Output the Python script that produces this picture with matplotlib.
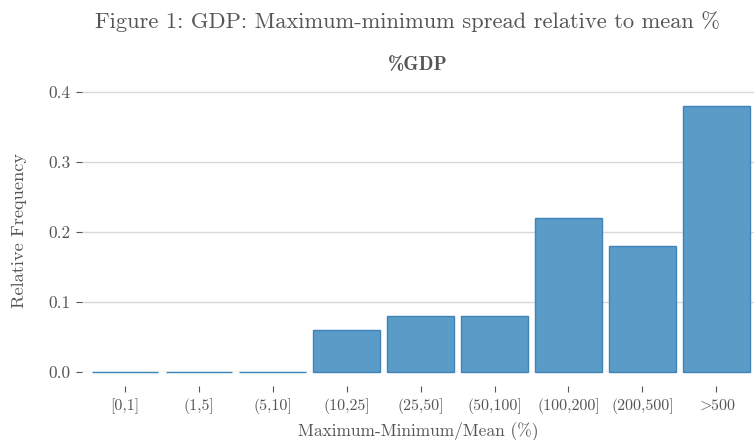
import matplotlib
matplotlib.use("Agg")
import matplotlib.pyplot as plt

categories = ["[0,1]", "(1,5]", "(5,10]", "(10,25]", "(25,50]", "(50,100]",
              "(100,200]", "(200,500]", r"$>\!\!500$"]
values = [0.0, 0.0, 0.0, 0.06, 0.08, 0.08, 0.22, 0.18, 0.38]
yticks = [0.0, 0.1, 0.2, 0.3, 0.4]

plt.rcParams['font.family'] = ['cmr10']
plt.rcParams['mathtext.fontset'] = 'cm'
plt.rcParams['axes.formatter.use_mathtext'] = True

txt = '#555555'
fig = plt.figure(figsize=(7.54, 4.4), dpi=100)
ax = fig.add_axes([82/754, 1-372/440, (754-82)/754, (372-88)/440])

x = list(range(len(categories)))
bars = ax.bar(x, values, width=0.9, color='#5b9bc8', edgecolor='#3f84b8',
              linewidth=1.0, zorder=3)
for b in bars:
    b.set_clip_on(False)
ax.set_xlim(-0.58, 8.51)
ax.set_ylim(0, 0.4 * (372-88)/280)
ax.set_yticks(yticks)
ax.set_yticklabels([f"{v:.1f}" for v in yticks])
ax.set_xticks(x)
ax.set_xticklabels(categories)
ax.grid(axis='y', color='#d9d9d9', linewidth=1, zorder=0)
for s in ax.spines.values():
    s.set_visible(False)
ax.spines['bottom'].set_position(('outward', 10))
ax.tick_params(axis='y', length=4.5, width=0.8, color='#555555', labelcolor=txt, labelsize=12.5, pad=4)
ax.tick_params(axis='x', length=4, width=0.8, color='#555555', labelcolor=txt, labelsize=11.5, pad=5)

ax.set_ylabel("Relative Frequency", color=txt, fontsize=13.2, labelpad=15)
ax.set_xlabel("Maximum-Minimum/Mean (%)", color=txt, fontsize=12.5, labelpad=5)
ax.set_title("%GDP", color=txt, fontsize=14, fontfamily='cmb10', pad=13)
fig.text(407/754, 1-22/440, "Figure 1: GDP: Maximum-minimum spread relative to mean %",
         ha='center', va='center', color=txt, fontsize=16.2)

fig.savefig("out.png", dpi=100)
